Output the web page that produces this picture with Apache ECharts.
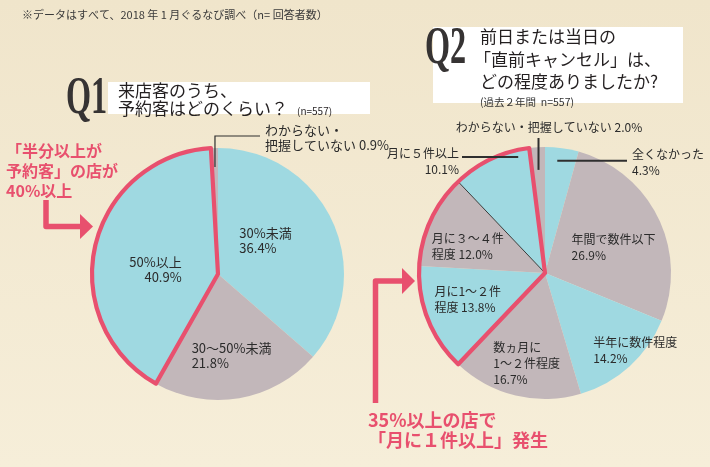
<!DOCTYPE html>
<html><head><meta charset="utf-8">
<script src="https://cdn.jsdelivr.net/npm/echarts@6/dist/echarts.min.js"></script>
<style>html,body{margin:0;padding:0;background:#f3e9d2}#c{width:710px;height:467px}</style>
</head><body><div id="c"></div>
<script>
// ---- data ----
const q1Names = ['30%未満', '30～50%未満', '50%以上', 'わからない・\n把握していない'];
const q1Values = [36.4, 21.8, 40.9, 0.9];
const q1Highlight = [2];
const q2Names = ['全くなかった', '年間で数件以下', '半年に数件程度', '数ヵ月に\n1～２件程度', '月に1～２件\n程度', '月に３～４件\n程度', '月に５件以上', 'わからない・把握していない'];
const q2Values = [4.3, 26.9, 14.2, 16.7, 13.8, 12.0, 10.1, 2.0];
const q2Highlight = [4, 5, 6];

// ---- styles / layout ----
const CYAN = '#9fd9e1', MAUVE = '#c2b7ba', RED = '#e8506e', INK = '#2b2b2b';
const LF = '"Noto Sans CJK JP", "Noto Sans", sans-serif';
const P1 = {cx: 218, cy: 274, r: 126};
const P2 = {cx: 545, cy: 273, r: 126};
const q1Sep = ['\n', '\n', '\n', ' '];
const q2Sep = ['\n', '\n', '\n', '\n', ' ', ' ', '\n', ' '];

function midDeg(vals, i) {
  const tot = vals.reduce((a, b) => a + b, 0);
  let c = 0; for (let k = 0; k < i; k++) c += vals[k];
  return (c + vals[i] / 2) / tot * 360;
}
function polar(P, rad, deg) {
  const a = deg * Math.PI / 180;
  return [P.cx + rad * Math.sin(a), P.cy - rad * Math.cos(a)];
}
// inside labels: offset from half-radius point at the mid angle
const q1Lay = [
  {dx: -36, dy: -7, align: 'left'},
  {dx: -37, dy: 19, align: 'left'},
  {dx: 25, dy: 10, align: 'right'},
  {out: true}
];
const q2Lay = [
  {out: true},
  {dx: -30, dy: 2, align: 'left'},
  {dx: 6, dy: 31, align: 'left'},
  {dx: -37, dy: 29, align: 'left'},
  {dx: -52, dy: 3, align: 'left'},
  {dx: -56, dy: 0, align: 'left'},
  {out: true},
  {out: true}
];
// outside labels and their leader lines
const leaders = [];
function outsideLayout(si, di) {
  if (si === 0 && di === 3) {
    return {x: 265, y: 138, align: 'left', verticalAlign: 'middle'};
  }
  if (si === 1 && di === 0) {
    return {x: 632, y: 162, align: 'left', verticalAlign: 'middle'};
  }
  if (si === 1 && di === 6) {
    return {x: 459, y: 161, align: 'right', verticalAlign: 'middle'};
  }
  if (si === 1 && di === 7) {
    return {x: 549, y: 127, align: 'center', verticalAlign: 'middle'};
  }
  return {};
}
(function () {
  let p0 = polar(P1, P1.r * 0.85, midDeg(q1Values, 3));
  leaders.push({pts: [p0, [p0[0], 136], [260, 136]], w: 1.2});
  p0 = polar(P2, P2.r * 0.9, midDeg(q2Values, 0));
  leaders.push({pts: [[p0[0] - 3, p0[1]], [627, p0[1]]], w: 2});
  p0 = polar(P2, P2.r * 0.945, 347);
  leaders.push({pts: [p0, [462, p0[1]]], w: 2});
  p0 = polar(P2, P2.r * 0.82, midDeg(q2Values, 7));
  leaders.push({pts: [p0, [p0[0], 138]], w: 2});
})();

function buildPie(names, vals, seps, lay, P, fs, lh) {
  return {
    type: 'pie', center: [P.cx, P.cy], radius: P.r, startAngle: 90, clockwise: true,
    avoidLabelOverlap: false, silent: true, animation: false, z: 2,
    label: {show: true, position: 'inside', color: INK, fontFamily: LF, fontSize: fs, lineHeight: lh,
      formatter: p => names[p.dataIndex] + seps[p.dataIndex] + vals[p.dataIndex].toFixed(1) + '%'},
    labelLine: {show: false},
    labelLayout: function (p) {
      const L = lay[p.dataIndex];
      if (L.out) return outsideLayout(p.seriesIndex, p.dataIndex);
      const pt = polar(P, P.r * 0.5, midDeg(vals, p.dataIndex));
      return {x: pt[0] + L.dx, y: pt[1] + L.dy, align: L.align, verticalAlign: 'middle'};
    },
    data: vals.map((v, i) => {
      const d = {name: names[i], value: v, itemStyle: {color: i % 2 === 0 ? CYAN : MAUVE}};
      if (lay[i].out) {
        d.label = {position: 'outside'};
        d.labelLine = {show: false};
      }
      return d;
    })
  };
}
function buildOutline(vals, hi, P) {
  let before = 0, mid = 0, after = 0;
  vals.forEach((v, i) => {
    if (hi.indexOf(i) >= 0) mid += v; else if (i < hi[0]) before += v; else after += v;
  });
  const none = {color: 'rgba(0,0,0,0)', borderWidth: 0};
  return {
    type: 'pie', center: [P.cx, P.cy], radius: P.r, startAngle: 90, clockwise: true,
    silent: true, animation: false, z: 5, label: {show: false}, labelLine: {show: false},
    data: [
      {value: before, itemStyle: none},
      {value: mid, itemStyle: {color: 'rgba(0,0,0,0)', borderColor: RED, borderWidth: 4.2, borderJoin: 'round'}},
      {value: after, itemStyle: none}
    ]
  };
}

const s2 = buildPie(q2Names, q2Values, q2Sep, q2Lay, P2, 12, 16);
// thin dark divider on the "月に５件以上" slice edge
s2.data[6].itemStyle.borderColor = '#3a3a3a';
s2.data[6].itemStyle.borderWidth = 1;

const gr = [];
function txt(x, y, text, font, fill, extra) {
  gr.push(Object.assign({type: 'text', x: x, y: y, z: 10,
    style: Object.assign({text: text, font: font, fill: fill, verticalAlign: 'middle', align: 'left'}, extra || {})}));
}
// white title boxes
gr.push({type: 'rect', z: 1, shape: {x: 108, y: 82, width: 262, height: 32}, style: {fill: '#fff'}});
gr.push({type: 'rect', z: 1, shape: {x: 433, y: 27, width: 250, height: 76}, style: {fill: '#fff'}});
// Q glyphs
gr.push({type: 'text', x: 66, y: 74, scaleX: 0.62, z: 10,
  style: {text: 'Q1', font: 'bold 52px "Liberation Serif", "DejaVu Serif", serif', fill: '#363333', verticalAlign: 'top'}});
gr.push({type: 'text', x: 425, y: 24, scaleX: 0.62, z: 10,
  style: {text: 'Q2', font: 'bold 52px "Liberation Serif", "DejaVu Serif", serif', fill: '#363333', verticalAlign: 'top'}});
// note
txt(22, 15, '※データはすべて、2018 年 1 月ぐるなび調べ（n= 回答者数）', '11px ' + LF, '#3a3a3a');
// Q1 title
txt(118, 91, '来店客のうち、', '17px ' + LF, '#231f20');
txt(118, 109, '予約客はどのくらい？', '17px ' + LF, '#231f20');
txt(297, 111, '(n=557)', '10px ' + LF, '#231f20');
// Q2 title
txt(480, 37, '前日または当日の', '17px ' + LF, '#231f20');
txt(474, 60, '「直前キャンセル」は、', '17px ' + LF, '#231f20');
txt(480, 82, 'どの程度ありましたか?', '17px ' + LF, '#231f20');
txt(480, 102, '(過去２年間  n=557)', '10.5px ' + LF, '#333');
// red annotations
txt(6, 171, '「半分以上が\n予約客」の店が\n40%以上', 'bold 16px ' + LF, RED, {lineHeight: 20});
txt(368, 430, '35%以上の店で\n「月に１件以上」発生', 'bold 18px ' + LF, RED, {lineHeight: 20});
// arrows
gr.push({type: 'polyline', z: 10, shape: {points: [[46, 200], [46, 226.5], [82, 226.5]]},
  style: {stroke: RED, lineWidth: 5.5, fill: null, lineJoin: 'round', lineCap: 'butt'}});
gr.push({type: 'polygon', z: 10, shape: {points: [[80, 214], [93, 226.5], [80, 239]]}, style: {fill: RED}});
gr.push({type: 'polyline', z: 10, shape: {points: [[375.5, 403], [375.5, 281], [404, 281]]},
  style: {stroke: RED, lineWidth: 5.5, fill: null, lineJoin: 'round', lineCap: 'butt'}});
gr.push({type: 'polygon', z: 10, shape: {points: [[402, 268], [415, 281], [402, 294]]}, style: {fill: RED}});
// leader lines
leaders.forEach(L => gr.push({type: 'polyline', z: 10, shape: {points: L.pts},
  style: {stroke: '#2f2f2f', lineWidth: L.w, fill: null}}));

const chart = echarts.init(document.getElementById('c'), null, {renderer: 'canvas'});
chart.setOption({
  animation: false,
  backgroundColor: {type: 'linear', x: 0, y: 0, x2: 0, y2: 1,
    colorStops: [{offset: 0, color: '#f0e5cb'}, {offset: 1, color: '#f6eed9'}]},
  graphic: gr,
  series: [
    buildPie(q1Names, q1Values, q1Sep, q1Lay, P1, 13, 15),
    s2,
    buildOutline(q1Values, q1Highlight, P1),
    buildOutline(q2Values, q2Highlight, P2)
  ]
});
</script></body></html>
